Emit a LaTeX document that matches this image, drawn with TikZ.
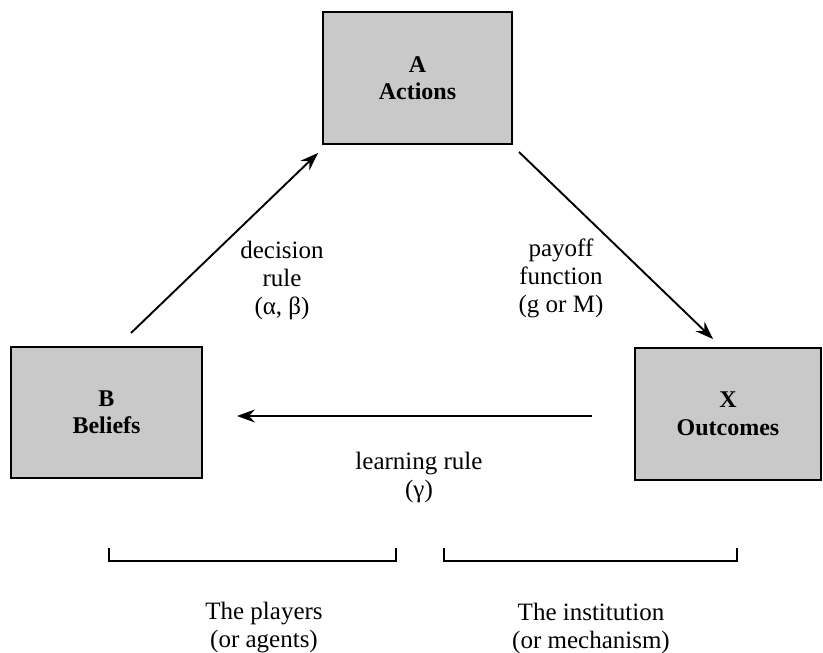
\documentclass[tikz,border=0pt]{standalone}
\usepackage{fontspec}
\setmainfont{Liberation Serif}
\usetikzlibrary{arrows.meta}
\begin{document}
\begin{tikzpicture}[x=1pt,y=-1pt,
  box/.style={draw=black,line width=2.4pt,fill=black!21,inner sep=0pt},
  boxlabel/.style={font=\fontsize{24}{27.5}\selectfont\bfseries,align=center},
  lbl/.style={font=\fontsize{25}{28}\selectfont,align=center},
  conn/.style={line width=1.9pt,-{Stealth[length=18pt,width=13pt,inset=6pt]}},
  brk/.style={line width=1.9pt}]
\useasboundingbox (0,0) rectangle (823,653);
% boxes
\node[box,minimum width=189pt,minimum height=132pt] (A) at (417.5,78) {};
\node[boxlabel] (Alab) at (A.center) {A\\Actions};
\node[box,minimum width=191pt,minimum height=131pt] (B) at (106.5,412.5) {};
\node[boxlabel] (Blab) at (B.center) {B\\Beliefs};
\node[box,minimum width=186pt,minimum height=132pt] (X) at (728,414) {};
\node[boxlabel] (Xlab) at (X.center) {X\\Outcomes};
% connector endpoints
\coordinate (dtail) at (131,333);
\coordinate (dtip) at (318,153);
\coordinate (ptail) at (519,152);
\coordinate (ptip) at (713,339);
\coordinate (ltail) at (592,416);
\coordinate (ltip) at (237,416);
\draw[conn] (dtail) -- (dtip);
\draw[conn] (ptail) -- (ptip);
\draw[conn] (ltail) -- (ltip);
% labels
\node[lbl] (dec) at (282,280) {decision\\rule\\(α, β)};
\node[lbl] (pay) at (561,278) {payoff\\function\\(g or M)};
\node[lbl] (lrn) at (419,477) {learning rule\\(γ)};
% brackets
\coordinate (b1a) at (109,548);
\coordinate (b1b) at (109,561);
\coordinate (b1c) at (396,561);
\coordinate (b1d) at (396,548);
\coordinate (b2a) at (444,548);
\coordinate (b2b) at (444,561);
\coordinate (b2c) at (737,561);
\coordinate (b2d) at (737,548);
\draw[brk] (b1a) -- (b1b) -- (b1c) -- (b1d);
\draw[brk] (b2a) -- (b2b) -- (b2c) -- (b2d);
\node[lbl] (pl) at (264,628) {The players\\(or agents)};
\node[lbl] (in) at (591,628) {The institution\\(or mechanism)};
\end{tikzpicture}
\end{document}
